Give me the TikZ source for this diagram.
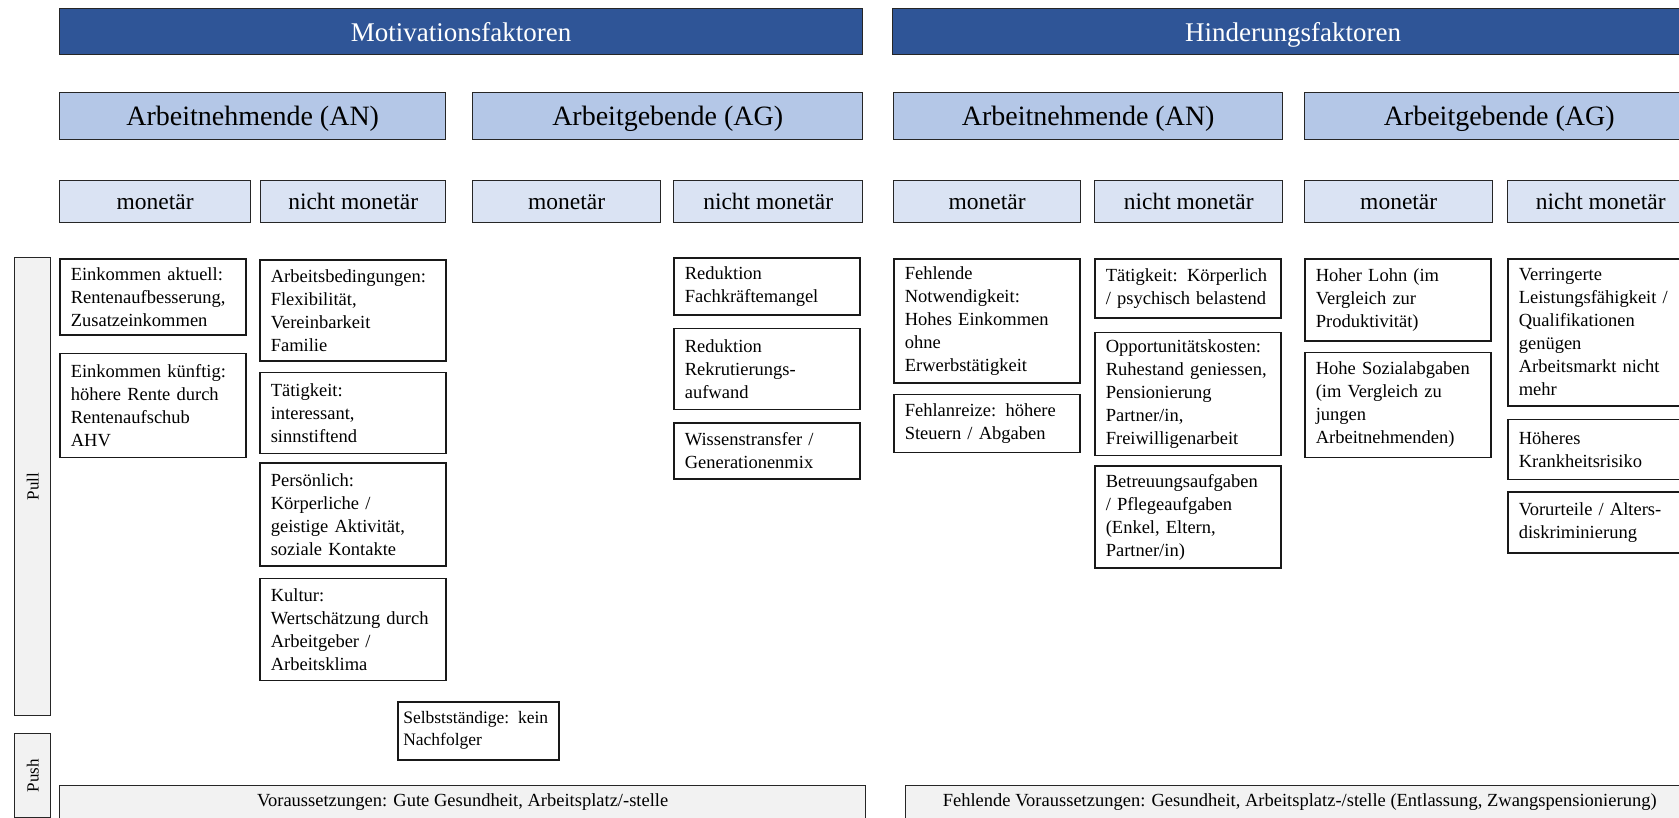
\documentclass[tikz,border=0pt]{standalone}
\usepackage{fontspec}
\setmainfont{Liberation Serif}
\usetikzlibrary{positioning}
\definecolor{cBanner}{HTML}{2F5597}
\definecolor{cGroup}{HTML}{B4C7E7}
\definecolor{cSub}{HTML}{DAE3F3}
\definecolor{cSide}{HTML}{F2F2F2}
\tikzset{
  banner/.style={draw=black!85, fill=cBanner, text=white, line width=1.4pt,
    anchor=north west, minimum height=46pt, inner sep=0pt,
    text height=19pt, text depth=0pt,
    font=\fontsize{27}{30}\selectfont},
  grouphead/.style={draw=black!85, fill=cGroup, line width=1.4pt,
    anchor=north west, minimum height=47pt, inner sep=0pt,
    text height=20pt, text depth=2pt,
    font=\fontsize{28}{31}\selectfont},
  subhead/.style={draw=black!85, fill=cSub, line width=1.4pt,
    anchor=north west, minimum height=42pt, inner sep=0pt,
    font=\fontsize{23.5}{26}\selectfont},
  card/.style={draw=black!90, fill=white, line width=1.6pt,
    anchor=north west, text width=164pt, inner xsep=11pt, inner ysep=3pt,
    align=left, font=\fontsize{18.5}{23}\selectfont},
  sidebar/.style={draw=black!85, fill=cSide, line width=1.4pt,
    anchor=north west, minimum width=36pt, inner sep=0pt},
  sidelabel/.style={rotate=90, font=\fontsize{17}{20}\selectfont},
  basebar/.style={draw=black!85, fill=cSide, line width=1.4pt,
    anchor=north west, minimum height=33pt, inner sep=0pt,
    font=\fontsize{18.5}{22}\selectfont},
}
\begin{document}
\begin{tikzpicture}[x=1pt, y=-1pt]
  \useasboundingbox (0,0) rectangle (1679,817);

  % ----------------------------------------------------------------
  % Top banners
  % ----------------------------------------------------------------
  \node[banner, minimum width=803pt] (motiv) at (59,8) {Motivationsfaktoren};
  \node[banner, minimum width=801pt] (hinder) at (892,8) {Hinderungsfaktoren};

  % ----------------------------------------------------------------
  % AN / AG heads
  % ----------------------------------------------------------------
  \node[grouphead, minimum width=386pt] (motAN) at (59,92)   {Arbeitnehmende (AN)};
  \node[grouphead, minimum width=390pt] (motAG) at (472,92)  {Arbeitgebende (AG)};
  \node[grouphead, minimum width=389pt] (hinAN) at (893,92)  {Arbeitnehmende (AN)};
  \node[grouphead, minimum width=389pt] (hinAG) at (1304,92) {Arbeitgebende (AG)};

  % ----------------------------------------------------------------
  % monetaer / nicht monetaer
  % ----------------------------------------------------------------
  \node[subhead, minimum width=191pt] (motANmon) at (59,180)   {monetär};
  \node[subhead, minimum width=185pt] (motANnon) at (260,180)  {nicht monetär};
  \node[subhead, minimum width=188pt] (motAGmon) at (472,180)  {monetär};
  \node[subhead, minimum width=189pt] (motAGnon) at (673,180)  {nicht monetär};
  \node[subhead, minimum width=187pt] (hinANmon) at (893,180)  {monetär};
  \node[subhead, minimum width=188pt] (hinANnon) at (1094,180) {nicht monetär};
  \node[subhead, minimum width=188pt] (hinAGmon) at (1304,180) {monetär};
  \node[subhead, minimum width=186pt] (hinAGnon) at (1507,180) {nicht monetär};

  % ----------------------------------------------------------------
  % Pull / Push side bars
  % ----------------------------------------------------------------
  \node[sidebar, minimum height=458pt] (pull) at (14,257) {};
  \node[sidelabel] (pullText) at (pull.center) {Pull};
  \node[sidebar, minimum height=84pt] (push) at (14,733) {};
  \node[sidelabel] (pushText) at (push.center) {Push};

  % ----------------------------------------------------------------
  % Motivation: AN monetaer / nicht monetaer
  % ----------------------------------------------------------------
  \node[card, minimum height=76pt] (einkAkt) at (59,258)
    {Einkommen aktuell:\\ Rentenaufbesserung,\\ Zusatzeinkommen};
  \node[card, minimum height=104pt, below=17pt of einkAkt] (einkKuenf)
    {Einkommen künftig:\\ höhere Rente durch\\ Rentenaufschub\\ AHV};

  \node[card, minimum height=101pt] (arbBed) at (259,259)
    {Arbeitsbedingungen:\\ Flexibilität,\\ Vereinbarkeit\\ Familie};
  \node[card, minimum height=81pt, below=10pt of arbBed] (taetig)
    {Tätigkeit:\\ interessant,\\ sinnstiftend};
  \node[card, minimum height=103pt, below=8pt of taetig] (persoen)
    {Persönlich:\\ Körperliche /\\ geistige Aktivität,\\ soziale Kontakte};
  \node[card, minimum height=102pt, below=11pt of persoen] (kultur)
    {Kultur:\\ Wertschätzung durch\\ Arbeitgeber /\\ Arbeitsklima};

  \node[card, text width=150pt, inner xsep=5.5pt, minimum height=58pt,
    font=\fontsize{17.5}{22}\selectfont] (selbst) at (397,701)
    {Selbstständige: kein\\ Nachfolger};

  % ----------------------------------------------------------------
  % Motivation: AG nicht monetaer
  % ----------------------------------------------------------------
  \node[card, minimum height=57pt] (redFach) at (673,257)
    {Reduktion\\ Fachkräftemangel};
  \node[card, minimum height=81pt, below=12pt of redFach] (redRekr)
    {Reduktion\\ Rekrutierungs-\\ aufwand};
  \node[card, minimum height=56pt, below=12pt of redRekr] (wissen)
    {Wissenstransfer /\\ Generationenmix};

  % ----------------------------------------------------------------
  % Hinderung: AN monetaer / nicht monetaer
  % ----------------------------------------------------------------
  \node[card, minimum height=124pt] (fehlNot) at (893,258)
    {Fehlende\\ Notwendigkeit:\\ Hohes Einkommen\\ ohne\\ Erwerbstätigkeit};
  \node[card, minimum height=58pt, below=10pt of fehlNot] (fehlAnr)
    {Fehlanreize: höhere\\ Steuern / Abgaben};

  \node[card, minimum height=59pt] (belast) at (1094,258)
    {Tätigkeit: Körperlich\\ / psychisch belastend};
  \node[card, minimum height=123pt, below=13pt of belast] (opport)
    {Opportunitätskosten:\\ Ruhestand geniessen,\\ Pensionierung\\ Partner/in,\\ Freiwilligenarbeit};
  \node[card, minimum height=102pt, below=9pt of opport] (betreu)
    {Betreuungsaufgaben\\ / Pflegeaufgaben\\ (Enkel, Eltern,\\ Partner/in)};

  % ----------------------------------------------------------------
  % Hinderung: AG monetaer / nicht monetaer
  % ----------------------------------------------------------------
  \node[card, minimum height=82pt] (lohn) at (1304,258)
    {Hoher Lohn (im\\ Vergleich zur\\ Produktivität)};
  \node[card, minimum height=105pt, below=10pt of lohn] (sozial)
    {Hohe Sozialabgaben\\ (im Vergleich zu\\ jungen\\ Arbeitnehmenden)};

  \node[card, minimum height=147pt] (verring) at (1507,258)
    {Verringerte\\ Leistungsfähigkeit /\\ Qualifikationen\\ genügen\\ Arbeitsmarkt nicht\\ mehr};
  \node[card, minimum height=60pt, below=12pt of verring] (krank)
    {Höheres\\ Krankheitsrisiko};
  \node[card, minimum height=61pt, below=11pt of krank] (vorurt)
    {Vorurteile / Alters-\\ diskriminierung};

  % ----------------------------------------------------------------
  % Bottom bars
  % ----------------------------------------------------------------
  \node[basebar, minimum width=806pt] (motBase) at (59,785)
    {Voraussetzungen: Gute Gesundheit, Arbeitsplatz/-stelle};
  \node[basebar, minimum width=788pt] (hinBase) at (905,785)
    {Fehlende Voraussetzungen: Gesundheit, Arbeitsplatz-/stelle (Entlassung, Zwangspensionierung)};

\end{tikzpicture}
\end{document}
